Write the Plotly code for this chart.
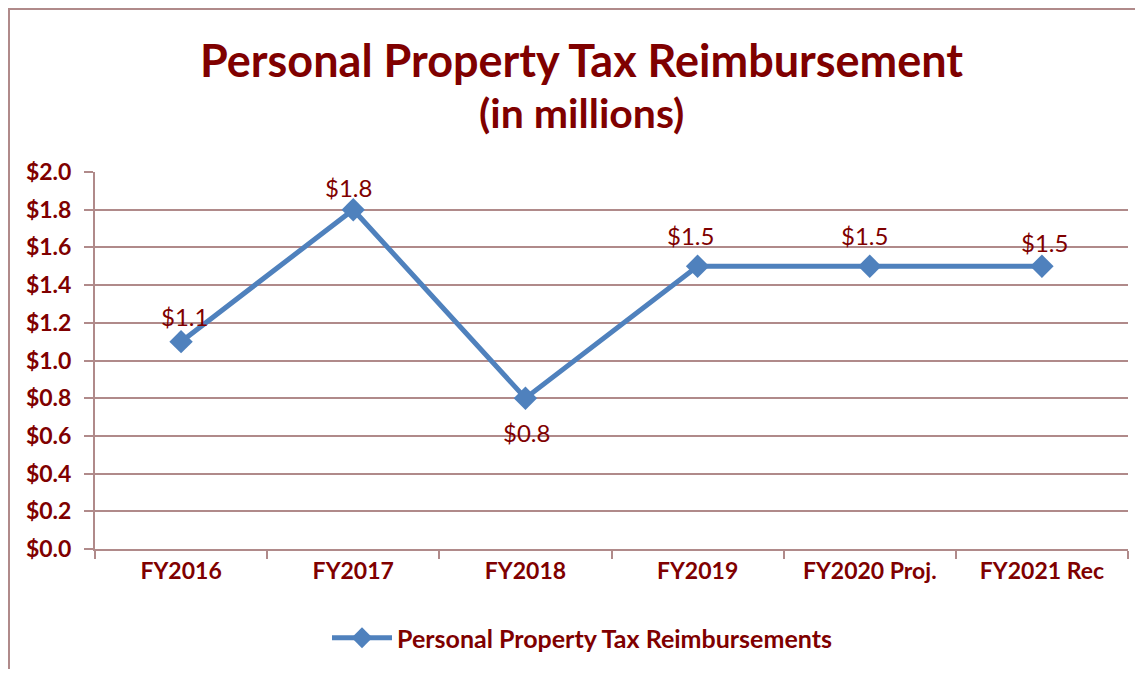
import plotly.graph_objects as go

categories = ["FY2016", "FY2017", "FY2018", "FY2019", "FY2020 Proj.", "FY2021 Rec"]
values = [1.1, 1.8, 0.8, 1.5, 1.5, 1.5]
labels = ["$1.1", "$1.8", "$0.8", "$1.5", "$1.5", "$1.5"]
y_ticks = [0.0, 0.2, 0.4, 0.6, 0.8, 1.0, 1.2, 1.4, 1.6, 1.8, 2.0]
y_tick_text = ["$%.1f" % v for v in y_ticks]

# label offsets in pixels (style only)
label_dx = [3, -5, 1, -7, -5, 3]
label_dy = [25, 22, -34, 31, 31, 24]

RED = "#7F0000"
AXIS = "#B08A8A"
BLUE = "#4F81BD"
FONT = "Lato"

fig = go.Figure()
fig.add_trace(go.Scatter(
    x=categories, y=values, mode="lines+markers",
    name="Personal Property Tax Reimbursements",
    line=dict(color=BLUE, width=5),
    marker=dict(symbol="diamond", size=18, color=BLUE),
))

OFF = 8  # page body margin
W, H = 1147 - 2 * OFF - 4, 677 - 2 * OFF
L, R, T, B = 95 - OFF, 1128 - OFF, 172 - OFF, 549 - OFF
def px(x): return (x - OFF - L) / (R - L)
def py(y): return (B - (y - OFF)) / (B - T)
def cx(x): return (x - OFF) / W
def cy(y): return 1 - (y - OFF) / H

annotations = [
    dict(text="Personal Property Tax Reimbursement", xref="paper", yref="paper",
         x=px(581), y=py(60), xanchor="center", yanchor="middle", showarrow=False,
         font=dict(family=FONT, size=45, color=RED, weight="bold")),
    dict(text="(in millions)", xref="paper", yref="paper",
         x=px(581), y=py(113), xanchor="center", yanchor="middle", showarrow=False,
         font=dict(family=FONT, size=41, color=RED, weight="bold")),
]
for c, v, t, dx, dy in zip(categories, values, labels, label_dx, label_dy):
    annotations.append(dict(text=t, x=c, y=v, xref="x", yref="y", showarrow=False,
                            xanchor="center", yanchor="middle", xshift=dx, yshift=dy,
                            font=dict(family=FONT, size=24, color=RED)))

fig.update_layout(
    width=W, height=H,
    margin=dict(l=L, r=W - R, t=T, b=H - B),
    paper_bgcolor="white", plot_bgcolor="white",
    showlegend=True,
    legend=dict(orientation="h", xref="container", yref="container",
                x=cx(582), y=cy(638), xanchor="center", yanchor="middle",
                font=dict(family=FONT, size=25, color=RED, weight="bold"),
                itemwidth=60),
    xaxis=dict(showgrid=False, showline=True, linecolor=AXIS, linewidth=2,
               ticks="outside", tickson="boundaries", ticklen=8, tickcolor=AXIS, tickwidth=2,
               tickfont=dict(family=FONT, size=23, color=RED, weight="bold"),
               range=[-0.5, 5.5]),
    yaxis=dict(range=[0, 2.0], tickvals=y_ticks, ticktext=y_tick_text,
               showgrid=True, gridcolor=AXIS, gridwidth=2,
               showline=True, linecolor=AXIS, linewidth=2,
               ticks="outside", ticklen=9, tickcolor=AXIS, tickwidth=2,
               ticklabelstandoff=8,
               tickfont=dict(family=FONT, size=23, color=RED, weight="bold"),
               zeroline=False),
    annotations=annotations,
    shapes=[
        dict(type="path", xref="paper", yref="paper",
             path="M {x0},{y0} L {x0},{y1} L {x1},{y1}".format(
                 x0=px(OFF + 1), y0=py(700), y1=py(OFF + 1), x1=px(1170)),
             line=dict(color=AXIS, width=2), layer="below"),
    ],
)

fig.write_html("out.html")
